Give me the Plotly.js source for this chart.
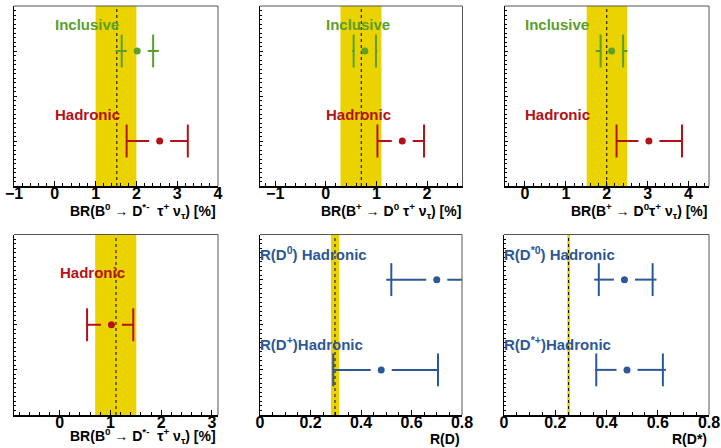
<!DOCTYPE html>
<html><head><meta charset="utf-8">
<script src="https://cdn.plot.ly/plotly-3.0.1.min.js"></script>
<style>html,body{margin:0;padding:0;background:#fff;}#chart{width:721px;height:448px;}</style>
</head><body><div id="chart"></div>
<script>
// ---------- data ----------
// Panel 1: BR(B0 -> D*- tau nu)
const p1Labels = ['Inclusive', 'Hadronic'];
const p1Rows   = [1.5, 0.5];
const p1Val    = [2.02, 2.57];
const p1StatLo = [1.64, 1.76];
const p1StatHi = [2.41, 3.26];
const p1TotLo  = [1.49, 1.76];
const p1TotHi  = [2.55, 3.26];
const p1Band   = [1.0, 2.0];
const p1SM     = 1.52;

// Panel 2: BR(B+ -> D0 tau nu)
const p2Labels = ['Inclusive', 'Hadronic'];
const p2Rows   = [1.5, 0.5];
const p2Val    = [0.77, 1.51];
const p2StatLo = [0.55, 1.02];
const p2StatHi = [0.99, 1.94];
const p2TotLo  = [0.52, 1.02];
const p2TotHi  = [1.02, 1.94];
const p2Band   = [0.29, 1.10];
const p2SM     = 0.70;

// Panel 3: BR(B+ -> D0 tau nu) (second)
const p3Labels = ['Inclusive', 'Hadronic'];
const p3Rows   = [1.5, 0.5];
const p3Val    = [2.12, 3.03];
const p3StatLo = [1.85, 2.24];
const p3StatHi = [2.40, 3.84];
const p3TotLo  = [1.73, 2.24];
const p3TotHi  = [2.51, 3.84];
const p3Band   = [1.51, 2.50];
const p3SM     = 2.00;

// Panel 4: BR(B0 -> D*- tau nu) hadronic only
const p4Labels = ['Hadronic'];
const p4Rows   = [0.5];
const p4Val    = [1.02];
const p4StatLo = [0.54];
const p4StatHi = [1.45];
const p4TotLo  = [0.54];
const p4TotHi  = [1.45];
const p4Band   = [0.70, 1.51];
const p4SM     = 1.11;

// Panel 5: R(D)
const p5Labels = ['R(D<sup>0</sup>) Hadronic', 'R(D<sup>+</sup>)Hadronic'];
const p5Rows   = [1.5, 0.5];
const p5Val    = [0.70, 0.48];
const p5StatLo = [0.52, 0.29];
const p5StatHi = [0.89, 0.705];
const p5TotLo  = [0.50, 0.288];
const p5TotHi  = [0.92, 0.705];
const p5Band   = [0.281, 0.314];
const p5SM     = 0.297;

// Panel 6: R(D*)
const p6Labels = ['R(D<sup>*0</sup>) Hadronic', 'R(D<sup>*+</sup>)Hadronic'];
const p6Rows   = [1.5, 0.5];
const p6Val    = [0.47, 0.48];
const p6StatLo = [0.37, 0.36];
const p6StatHi = [0.58, 0.62];
const p6TotLo  = [0.352, 0.356];
const p6TotHi  = [0.595, 0.632];
const p6Band   = [0.247, 0.258];
const p6SM     = 0.252;

const axisTitles = [
  'BR(B<sup>0</sup> → D<sup>*-</sup>  τ<sup>+</sup> ν<sub>τ</sub>) [%]',
  'BR(B<sup>+</sup> → D<sup>0</sup> τ<sup>+</sup> ν<sub>τ</sub>) [%]',
  'BR(B<sup>+</sup> → D<sup>0</sup>τ<sup>+</sup> ν<sub>τ</sub>) [%]',
  'BR(B<sup>0</sup> → D<sup>*-</sup>  τ<sup>+</sup> ν<sub>τ</sub>) [%]',
  'R(D)',
  'R(D*)'
];

// ---------- style / layout ----------
const W = 721, H = 448;
const GREEN = '#5aa02a', RED = '#b31217', BLUE = '#2d5897', YELLOW = '#ebd302';
const FONT = 'Liberation Sans, Arial, Helvetica, sans-serif';

const panels = [
  {labels:p1Labels, rows:p1Rows, val:p1Val, sLo:p1StatLo, sHi:p1StatHi, tLo:p1TotLo, tHi:p1TotHi, band:p1Band, sm:p1SM,
   colors:[GREEN, RED], xr:[-1, 4], dtick:1, minor:0.2, yr:[0,2], px:[14,218], py:[6,186], tshift:25},
  {labels:p2Labels, rows:p2Rows, val:p2Val, sLo:p2StatLo, sHi:p2StatHi, tLo:p2TotLo, tHi:p2TotHi, band:p2Band, sm:p2SM,
   colors:[GREEN, RED], xr:[-1.3, 2.7], dtick:1, minor:0.2, yr:[0,2], px:[260,462.5], py:[6,186], tshift:25},
  {labels:p3Labels, rows:p3Rows, val:p3Val, sLo:p3StatLo, sHi:p3StatHi, tLo:p3TotLo, tHi:p3TotHi, band:p3Band, sm:p3SM,
   colors:[GREEN, RED], xr:[-0.5, 4.5], dtick:1, minor:0.2, yr:[0,2], px:[504.5,709], py:[6,186], tshift:25},
  {labels:p4Labels, rows:p4Rows, val:p4Val, sLo:p4StatLo, sHi:p4StatHi, tLo:p4TotLo, tHi:p4TotHi, band:p4Band, sm:p4SM,
   colors:[RED], xr:[-0.9, 3.12], dtick:1, minor:0.2, yr:[0,1], px:[14,218], py:[234.5,415], tshift:21},
  {labels:p5Labels, rows:p5Rows, val:p5Val, sLo:p5StatLo, sHi:p5StatHi, tLo:p5TotLo, tHi:p5TotHi, band:p5Band, sm:p5SM,
   colors:[BLUE, BLUE], xr:[0, 0.8], dtick:0.2, minor:0.05, yr:[0,2], px:[260,462], py:[234.5,415], tshift:24},
  {labels:p6Labels, rows:p6Rows, val:p6Val, sLo:p6StatLo, sHi:p6StatHi, tLo:p6TotLo, tHi:p6TotHi, band:p6Band, sm:p6SM,
   colors:[BLUE, BLUE], xr:[0, 0.8], dtick:0.2, minor:0.05, yr:[0,2], px:[504,709], py:[234.5,415], tshift:24}
];

const traces = [];
const shapes = [];
const annotations = [];
const layout = {
  width: W, height: H,
  margin: {l:0, r:0, t:0, b:0},
  paper_bgcolor: '#fff', plot_bgcolor: '#fff',
  showlegend: false,
  font: {family: FONT, size: 14, color: '#000'}
};

const GAP_PX = 10.5;

panels.forEach((p, i) => {
  const n = i + 1;
  const xa = n === 1 ? 'x' : 'x' + n;
  const ya = n === 1 ? 'y' : 'y' + n;
  const xkey = n === 1 ? 'xaxis' : 'xaxis' + n;
  const ykey = n === 1 ? 'yaxis' : 'yaxis' + n;
  const span = p.xr[1] - p.xr[0];
  const ySpan = p.yr[1] - p.yr[0];

  layout[xkey] = {
    domain: [p.px[0] / W, p.px[1] / W],
    range: p.xr, anchor: ya,
    showgrid: false, zeroline: false,
    showline: true, linecolor: '#000', linewidth: 2,
    ticks: 'inside', ticklen: 5, tickwidth: 1, tickcolor: '#000',
    tickmode: 'linear', tick0: 0, dtick: p.dtick,
    minor: {ticks: 'inside', ticklen: 3, tickwidth: 1, tickcolor: '#000', dtick: p.minor, tick0: 0},
    tickfont: {family: FONT, size: 16, color: '#000', weight: 700},
    tickprefix: '<b>', ticksuffix: '</b>',
    ticklabelstandoff: -8,
    fixedrange: true
  };
  layout[ykey] = {
    domain: [1 - p.py[1] / H, 1 - p.py[0] / H],
    range: p.yr, anchor: xa,
    showgrid: false, zeroline: false,
    showline: true, linecolor: '#000', linewidth: 1,
    showticklabels: false,
    ticks: 'inside', ticklen: 3, tickwidth: 1, tickcolor: '#000',
    tickmode: 'linear', tick0: 0, dtick: ySpan / 4,
    minor: {ticks: 'inside', ticklen: 2, tickwidth: 1, tickcolor: '#000', dtick: ySpan / 40, tick0: 0},
    fixedrange: true
  };

  // SM band and line
  shapes.push({type:'rect', xref:xa, yref: ya + ' domain', x0:p.band[0], x1:p.band[1], y0:0, y1:1,
               fillcolor: YELLOW, line:{width:0}, layer:'below'});
  shapes.push({type:'line', xref:xa, yref: ya + ' domain', x0:p.sm, x1:p.sm, y0:0, y1:1,
               line:{color:'#000', width:1, dash:'dot'}, layer:'below'});
  // top / right frame
  shapes.push({type:'line', xref: xa + ' domain', yref: ya + ' domain', x0:0, x1:1, y0:1, y1:1,
               line:{color:'#555', width:1}});
  shapes.push({type:'line', xref: xa + ' domain', yref: ya + ' domain', x0:1, x1:1, y0:0, y1:1,
               line:{color:'#555', width:1}});

  const pxPerUnit = (p.px[1] - p.px[0]) / span;
  const gap = GAP_PX / pxPerUnit;

  p.val.forEach((v, k) => {
    const c = p.colors[k];
    const r = p.rows[k];
    const xs = [], ys = [];
    if (v - gap > p.tLo[k]) { xs.push(p.tLo[k], v - gap, null); ys.push(r, r, null); }
    if (v + gap < p.tHi[k]) { xs.push(v + gap, p.tHi[k]); ys.push(r, r); }
    traces.push({type:'scatter', mode:'lines', x: xs, y: ys, xaxis: xa, yaxis: ya,
                 line:{color:c, width:2}, connectgaps:false, hoverinfo:'skip'});
    traces.push({type:'scatter', mode:'markers', x:[p.sLo[k], p.sHi[k]], y:[r, r], xaxis: xa, yaxis: ya,
                 marker:{symbol:'line-ns', size:23.5, line:{color:c, width:2}}, hoverinfo:'skip'});
    traces.push({type:'scatter', mode:'markers', x:[v], y:[r], xaxis: xa, yaxis: ya,
                 marker:{symbol:'circle', size:7, color:c}, hoverinfo:'skip'});
    annotations.push({xref: xa, yref: ya, x: 0, y: r + 0.29 * (ySpan / 2) * (p.yr[1] === 1 ? 2 : 1),
                      xanchor:'left', yanchor:'middle', showarrow:false, text: '<b>' + p.labels[k] + '</b>',
                      font:{family: FONT, size: 15, color: c}, xshift:-2});
  });

  annotations.push({xref: xa + ' domain', yref: ya + ' domain', x: 1, y: 0, xanchor:'right', yanchor:'middle',
                    yshift: -p.tshift, showarrow:false, text: '<b>' + axisTitles[i] + '</b>',
                    font:{family: FONT, size: 14, color:'#000'}});
});

layout.shapes = shapes;
layout.annotations = annotations;

Plotly.newPlot('chart', traces, layout, {staticPlot: true, displayModeBar: false});
</script>
</body></html>
